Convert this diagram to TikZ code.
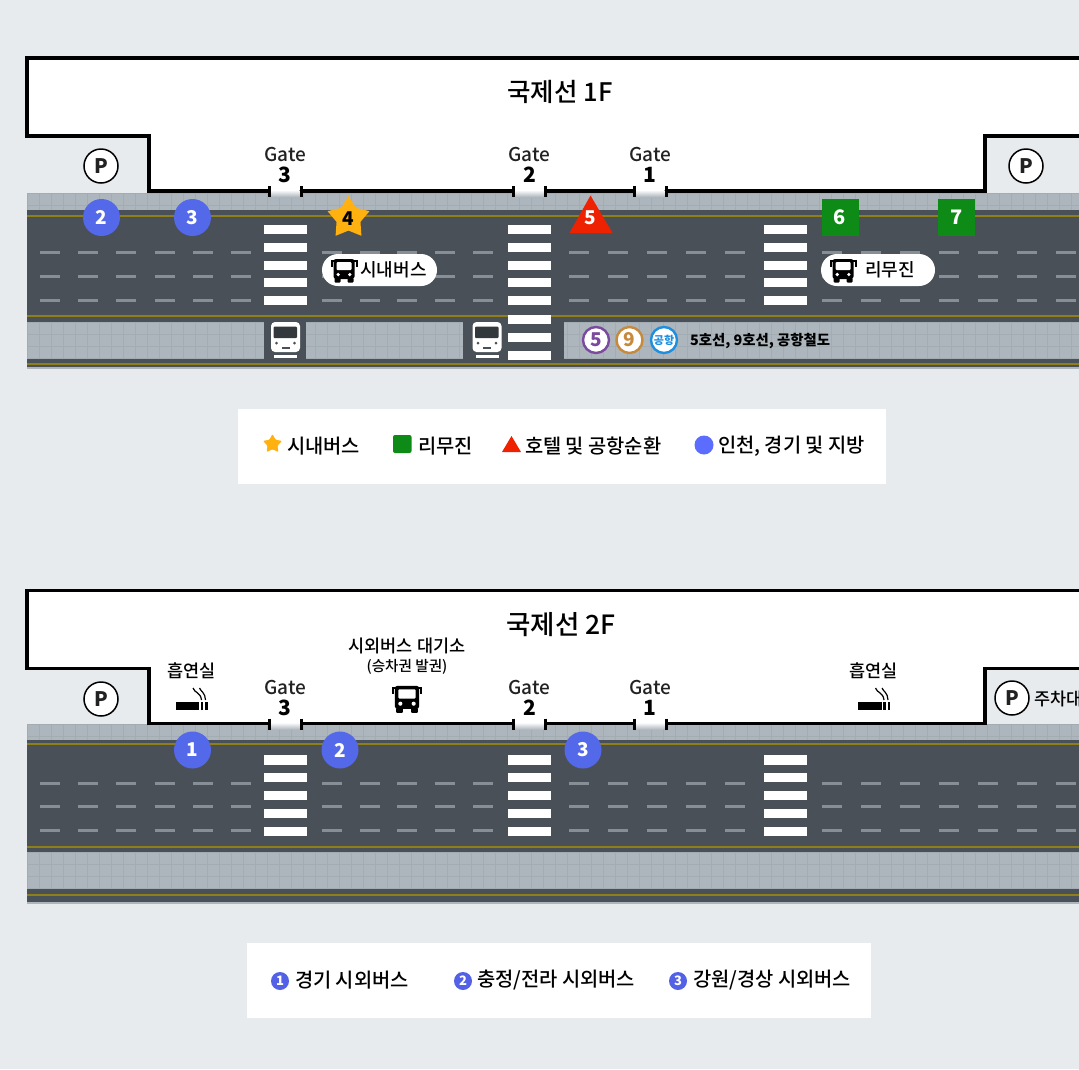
\documentclass[tikz,border=0pt]{standalone}
\usepackage{fontspec}
\setmainfont{Noto Sans CJK KR}
\newfontfamily\medf{Noto Sans CJK KR Medium}
\usetikzlibrary{shapes.geometric}
\definecolor{bgc}{HTML}{E7EBEE}
\definecolor{roadc}{HTML}{495057}
\definecolor{walkc}{HTML}{ADB5BD}
\definecolor{gridc}{HTML}{A3ABB3}
\definecolor{yellowc}{HTML}{8F7F1A}
\definecolor{dashc}{HTML}{868E96}
\definecolor{starc}{HTML}{FFB20F}
\definecolor{redc}{HTML}{EE2200}
\definecolor{greenc}{HTML}{0E8A16}
\definecolor{bluec}{HTML}{5468EA}
\definecolor{lblue}{HTML}{5B6CFF}
\definecolor{textc}{HTML}{222222}
\definecolor{purplec}{RGB}{123,74,158}
\definecolor{orangec}{RGB}{198,138,60}
\definecolor{skyc}{RGB}{30,143,224}
\newcommand{\fs}[1]{\fontsize{#1}{#1}\selectfont}
\tikzset{
  x=1pt,y=-1pt,
  every node/.style={inner sep=0pt,outer sep=0pt,text=textc},
  outline/.style={draw=black,line width=3.4pt,line join=miter,fill=white},
  tick/.style={draw=black,line width=3pt},
  bluedot/.style={circle,fill=bluec,minimum size=37pt,text=white,font=\fs{19}\bfseries},
  greensq/.style={rectangle,fill=greenc,minimum size=37pt,text=white,font=\fs{20}\bfseries},
  pdot/.style={circle,draw=black,line width=1.5pt,fill=white,minimum size=34pt,font=\fs{20}\bfseries},
  gatetxt/.style={font=\fs{19}\medf,text=textc},
  gatenum/.style={font=\fs{21}\bfseries,text=black},
  titletxt/.style={font=\medf,text=black},
  legtxt/.style={font=\fs{19.8}\medf,anchor=west,text=black},
  labeltxt/.style={font=\fs{17.5}\medf,text=black},
  pilltxt/.style={font=\fs{18}\medf,text=black},
  pill/.style={rounded corners=16pt,fill=white},
  legbox/.style={fill=white},
  crossbar/.style={fill=white},
  laneline/.style={draw=dashc,line width=3pt},
  yline/.style={draw=yellowc,line width=1.8pt},
  linedot/.style={circle,line width=2.4pt,fill=white,minimum size=26pt},
  numdot/.style={circle,fill=lblue!90!black,minimum size=18pt,text=white,font=\fs{13}\bfseries},
  busicon/.pic={
    \fill[black,rounded corners=2.5pt] (-10.5,-11) rectangle (10.5,9);
    \fill[white,rounded corners=1pt] (-7.5,-8) rectangle (7.5,0);
    \fill[white] (-5.8,4.5) circle (1.8) (5.8,4.5) circle (1.8);
    \fill[black,rounded corners=1pt] (-9.5,8) rectangle (-3.5,12.5);
    \fill[black,rounded corners=1pt] (3.5,8) rectangle (9.5,12.5);
    \draw[black,line width=2pt] (-9,-9) -- (-12.5,-9) -- (-12.5,-3.5);
    \draw[black,line width=2pt] (9,-9) -- (12.5,-9) -- (12.5,-3.5);
  },
  trainicon/.pic={
    \fill[white,rounded corners=4pt] (-14.5,-15) rectangle (14.5,15);
    \fill[roadc!70!black,rounded corners=1pt] (-12,-10.5) rectangle (11.5,1);
    \fill[roadc] (-9,6) circle (1.5) (9,6) circle (1.5);
    \fill[roadc] (-4,10) rectangle (4,11.5);
    \fill[white] (-11.5,18) rectangle (11.5,21);
  },
  smokeicon/.pic={
    \fill[black] (-16,-4) rectangle (7.5,4);
    \fill[black] (9,-4) rectangle (11.5,4);
    \fill[black] (13.5,-4) rectangle (16,4);
    \draw[black,line width=1.2pt] (1.5,-18) .. controls (3,-13) and (9,-14) .. (10,-6);
    \draw[black,line width=1.2pt] (8,-18) .. controls (9,-15) and (14,-13) .. (14,-6);
  }
}
\newcommand{\grid}[4]{% x0,y0,x1,y1
  \fill[walkc] (#1,#2) rectangle (#3,#4);
  \begin{scope}
    \clip (#1,#2) rectangle (#3,#4);
    \foreach \gx in {27,39,...,1079} \draw[gridc,line width=.6pt] (\gx,#2) -- (\gx,#4);
    \foreach \gy in {0,12,...,48} \draw[gridc,line width=.6pt] (#1,#2+\gy) -- (#3,#2+\gy);
  \end{scope}}
\newcommand{\lanes}[3]{% y1,y2,y3
  \foreach \lx in {40,78.2,116.4,154.6,192.8,231,322,359.7,397.4,435,473,569,608,647,686,725,822,861,899.5,939,978,1016.7,1056}{
    \foreach \ly in {#1,#2,#3} \draw[laneline] (\lx,\ly) -- (\lx+20,\ly);
  }}
\newcommand{\gatewall}[2]{% dy, prefix
  \foreach \gl/\gr/\gnum in {269/301/3,513.5/545.5/2,634/666/1}{
    \fill[white] (\gl+1.5,#1+186) rectangle (\gr-1.5,#1+190);
    \shade[top color=white,bottom color=walkc] (\gl+1.5,#1+190) rectangle (\gr-1.5,#1+197);
    \draw[tick] (\gl,#1+186) -- (\gl,#1+197);
    \draw[tick] (\gr,#1+186) -- (\gr,#1+197);
    \node[gatetxt] (#2gate\gnum) at ({(\gl+\gr)/2},#1+154.5) {Gate};
    \node[gatenum] (#2num\gnum) at ({(\gl+\gr)/2},#1+175) {\gnum};
  }}
\begin{document}
\begin{tikzpicture}
\useasboundingbox (0,0) rectangle (1079,1069);
\fill[bgc] (0,0) rectangle (1079,1069);

%%%%%%%%%%%%%%%%%% 1F
\grid{27}{193}{1079}{212}
\fill[roadc] (27,210) rectangle (1079,367);
\grid{27}{322}{264}{358}
\grid{306}{322}{463}{358}
\grid{564}{322}{1079}{358}
\fill[walkc] (27,367) rectangle (1079,368.5);
\draw[yline] (27,216) -- (1079,216);
\draw[yline] (27,316) -- (1079,316);
\draw[yline] (27,364) -- (1079,364);
\lanes{252}{276}{300}
\foreach \bx in {264,508,764}
  \foreach \by in {225,243,260.5,278,296}
    \fill[crossbar] (\bx,\by) rectangle (\bx+43,\by+9.3);
\foreach \by in {314.5,333,350.5}
  \fill[crossbar] (508,\by) rectangle (551,\by+9.3);

\draw[outline] (1085,58) -- (27,58) -- (27,136) -- (149,136) -- (149,191) -- (985,191) -- (985,136) -- (1085,136);
\gatewall{0}{u}
\node[titletxt,font=\fs{25.5}\medf] (title1) at (560,92) {국제선 1F};
\node[pdot] (p1l) at (101,166) {P};
\node[pdot] (p1r) at (1026,166) {P};

\node[bluedot] (m2) at (101.5,217.5) {2};
\node[bluedot] (m3) at (192.5,217.5) {3};
\node[star,star points=5,star point ratio=1.75,fill=starc,minimum size=44pt] (m4) at (348.5,218) {};
\node[font=\fs{19}\bfseries,text=black] (m4t) at (348.5,218.5) {4};
\fill[redc] (590.5,195.5) -- (612.5,233) -- (569.5,233) -- cycle;
\node[font=\fs{19}\bfseries,text=white] (m5) at (590.5,218) {5};
\node[greensq] (m6) at (840,217.5) {6};
\node[greensq] (m7) at (956.5,217.5) {7};

\fill[pill] (322,254) rectangle (437,286);
\pic at (344,270) {busicon};
\node[pilltxt] (pill1) at (393.5,270) {시내버스};
\fill[pill] (821,254) rectangle (935,286);
\pic at (843,270) {busicon};
\node[pilltxt] (pill2) at (890,270) {리무진};

\pic at (285.5,337) {trainicon};
\pic at (487,337) {trainicon};

\node[linedot,draw=purplec,font=\fs{19}\bfseries,text=purplec] (l5) at (596,340) {5};
\node[linedot,draw=orangec,font=\fs{19}\bfseries,text=orangec] (l9) at (629.5,340) {9};
\node[linedot,draw=skyc,font=\fs{11}\bfseries,text=skyc] (lair) at (664,340) {공항};
\node[font=\fs{14.4}\bfseries,anchor=west,text=black] (ltext) at (690,341) {5호선, 9호선, 공항철도};

% legend 1
\fill[legbox] (238,409) rectangle (886,484);
\node[star,star points=5,star point ratio=1.9,fill=starc,minimum size=20pt,rounded corners=1pt] (k1) at (272.5,444) {};
\node[legtxt] (k1t) at (287,446) {시내버스};
\fill[greenc,rounded corners=2pt] (393,435) rectangle (411.5,453);
\node[legtxt] (k2t) at (418,446) {리무진};
\fill[redc] (511.5,436) -- (521,452) -- (502,452) -- cycle;
\node[legtxt] (k3t) at (525,446) {호텔 및 공항순환};
\node[ellipse,fill=lblue,minimum width=19pt,minimum height=19pt] (k4) at (704,445) {};
\node[legtxt] (k4t) at (718,446) {인천, 경기 및 지방};

%%%%%%%%%%%%%%%%%% 2F
\grid{27}{724}{1079}{741}
\fill[roadc] (27,740) rectangle (1079,902);
\grid{27}{852}{1079}{888}
\fill[walkc] (27,902) rectangle (1079,903.5);
\draw[yline] (27,744) -- (1079,744);
\draw[yline] (27,847) -- (1079,847);
\draw[yline] (27,895) -- (1079,895);
\lanes{783}{806.5}{830}
\foreach \bx in {264,508,764}
  \foreach \by in {755.3,773,791,808.8,826.5}
    \fill[crossbar] (\bx,\by) rectangle (\bx+43,\by+9.3);

\draw[outline] (1085,590.5) -- (27,590.5) -- (27,668.5) -- (149,668.5) -- (149,723.5) -- (985,723.5) -- (985,668.5) -- (1085,668.5);
\gatewall{532.5}{d}
\node[titletxt,font=\fs{26.5}\medf] (title2) at (561,624.5) {국제선 2F};
\node[pdot] (p2l) at (101,699) {P};
\node[pdot] (p2r) at (1012,698) {P};
\node[labeltxt,anchor=west] (p2rt) at (1034,699) {주차대};

\node[labeltxt] (sm1) at (191.5,671) {흡연실};
\pic at (191.5,706) {smokeicon};
\node[labeltxt] (sm2) at (873.5,671) {흡연실};
\pic at (874,706) {smokeicon};
\node[labeltxt] (wait1) at (407,646) {시외버스 대기소};
\node[font=\fs{14.6}\medf,text=black] (wait2) at (407,667) {(승차권 발권)};
\pic[scale=1.15] at (407,698.5) {busicon};

\node[bluedot] (n1) at (192.5,750) {1};
\node[bluedot] (n2) at (340,750) {2};
\node[bluedot] (n3) at (583,750) {3};

% legend 2
\fill[legbox] (247,943) rectangle (871,1018);
\node[numdot] (c1) at (280,981) {1};
\node[legtxt] (c1t) at (295,980) {경기 시외버스};
\node[numdot] (c2) at (463,981) {2};
\node[legtxt] (c2t) at (477,980) {충정/전라 시외버스};
\node[numdot] (c3) at (678,981) {3};
\node[legtxt] (c3t) at (693,980) {강원/경상 시외버스};
\end{tikzpicture}
\end{document}
